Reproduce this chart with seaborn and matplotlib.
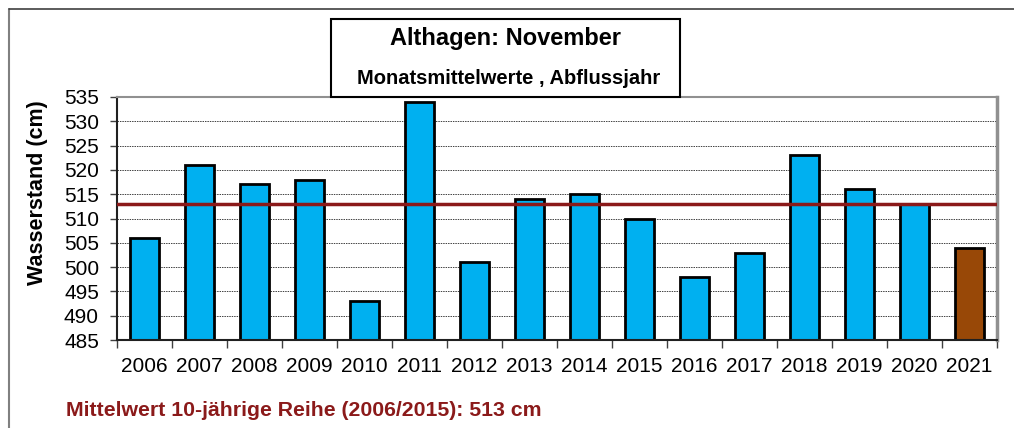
import matplotlib
matplotlib.use("Agg")
import matplotlib.pyplot as plt
import seaborn as sns
from matplotlib.patches import Rectangle
from matplotlib.lines import Line2D

# Daten
years = [str(y) for y in range(2006, 2022)]
values = [506, 521, 517, 518, 493, 534, 501, 514, 515, 510, 498, 503, 523, 516, 513, 504]
mean_10y = 513
bar_colors = ["#00B0F0"] * 15 + ["#984807"]

sns.set_theme(style="white", rc={"text.color": "black", "axes.labelcolor": "black",
                                 "xtick.color": "black", "ytick.color": "black"})
plt.rcParams["font.family"] = ["Liberation Sans", "DejaVu Sans"]

fig = plt.figure(figsize=(10.14, 4.28), dpi=100)
ax = fig.add_axes([117 / 1014, 1 - 340 / 428, 880 / 1014, 243 / 428])

sns.barplot(x=years, y=values, hue=years, palette=bar_colors, legend=False,
            width=0.51, edgecolor="black", linewidth=2, saturation=1, ax=ax)
ax.axhline(mean_10y, color="#8B1A1A", lw=2.5, zorder=5)

ax.set_ylim(485, 535)
ax.set_xlim(-0.5, len(years) - 0.5)
ax.set_yticks(range(485, 536, 5))
ax.yaxis.grid(True, linestyle=(0, (1.5, 1)), color="#404040", lw=0.7)
ax.set_axisbelow(True)

# Ticks zwischen den Kategorien
ax.set_xticks(range(len(years)))
ax.set_xticklabels(years, fontsize=15)
ax.tick_params(axis="x", length=0, pad=12)
ax.set_xticks([i - 0.5 for i in range(len(years) + 1)], minor=True)
ax.tick_params(axis="x", which="minor", length=6, width=1, color="#404040", direction="out", bottom=True)
ax.tick_params(axis="y", labelsize=15, length=5, width=1, color="#404040",
               direction="out", left=True, pad=8)

for s in ["left", "bottom"]:
    ax.spines[s].set_color("#202020")
    ax.spines[s].set_linewidth(1.5)
for s in ["top", "right"]:
    ax.spines[s].set_color("#909090")
    ax.spines[s].set_linewidth(1.5)
ax.spines["right"].set_linewidth(2.5)

ax.set_ylabel("Wasserstand (cm)", fontsize=15.5, fontweight="bold")
ax.yaxis.set_label_coords((48 - 117) / 880, (340 - 193) / 243)
ax.set_xlabel("")

# Titelbox
fig.patches.append(Rectangle((331 / 1014, 1 - 97 / 428), 349 / 1014, 78 / 428,
                             transform=fig.transFigure, facecolor="white",
                             edgecolor="black", lw=1.5, zorder=10))
fig.text(505 / 1014, 1 - 39 / 428, "Althagen: November", ha="center", va="center",
         fontsize=17, fontweight="bold", zorder=11)
fig.text(509 / 1014, 1 - 78 / 428, "Monatsmittelwerte , Abflussjahr", ha="center", va="center",
         fontsize=14.5, fontweight="bold", zorder=11)

# Fußzeile
fig.text(66 / 1014, 1 - 410 / 428, "Mittelwert 10-jährige Reihe (2006/2015): 513 cm",
         ha="left", va="center", fontsize=15.3, fontweight="bold", color="#8B1A1A")

# äußerer Rahmen
fig.lines.append(Line2D([9 / 1014, 9 / 1014], [0, 1 - 9 / 428], transform=fig.transFigure,
                        color="#808080", lw=1.5))
fig.lines.append(Line2D([9 / 1014, 1], [1 - 9 / 428, 1 - 9 / 428], transform=fig.transFigure,
                        color="#404040", lw=1.2))

fig.savefig("out.png", dpi=100)
